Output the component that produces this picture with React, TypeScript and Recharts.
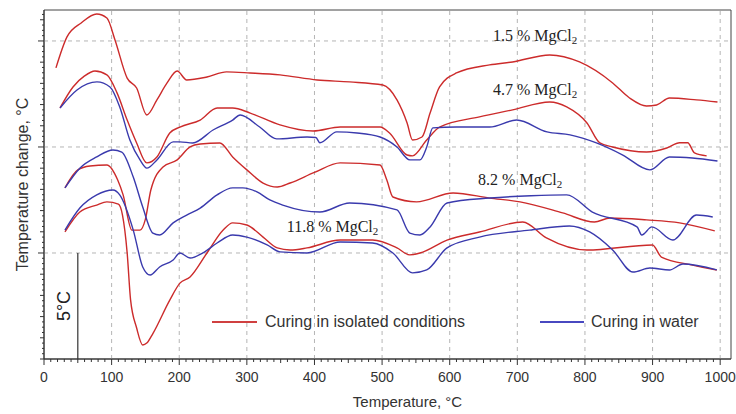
import React from 'react';
import {
    LineChart, Line, XAxis, YAxis, ReferenceLine, ReferenceArea, ReferenceDot, Legend,
} from 'recharts';

// [temperature °C, temperature change °C]
const RED_15 = [
    [17.7, 13.73], [34, 15.19], [55, 15.85], [78, 16.27], [93, 16.08], [105, 15.05], [123, 13.25], [137, 12.78],
    [152, 11.51], [167, 12.22], [182, 13.02], [197, 13.58], [211, 13.16], [241, 13.3], [270, 13.54], [305, 13.49],
    [349, 13.4], [404, 13.16], [452, 13.07], [501, 12.92], [522, 12.22], [537, 11.13], [545, 10.33], [559, 10.47],
    [571, 11.6], [585, 12.83], [610, 13.49], [659, 13.87], [693, 14.01], [748, 14.34], [792, 14.01], [841, 13.02],
    [866, 12.31], [891, 11.93], [906, 11.98], [925, 12.31], [965, 12.22], [996, 12.12],
];
const RED_47 = [
    [23.7, 11.84], [42.9, 12.83], [60, 13.35], [75.4, 13.58], [93, 13.4], [108, 12.55], [123, 11.27], [137, 10.19],
    [152, 9.25], [167, 9.53], [186, 10.66], [201, 10.94], [231, 11.27], [256, 11.84], [279, 11.84], [305, 11.6],
    [349, 11.04], [398, 10.75], [438, 10.94], [497, 10.94], [511, 10.66], [537, 9.62], [545, 9.58], [566, 10.33],
    [585, 10.94], [644, 11.42], [693, 11.75], [748, 12.12], [773, 11.89], [803, 11.13], [822, 10.19], [841, 10.0],
    [891, 9.76], [921, 9.95], [940, 10.2], [952, 10.2], [962, 9.72], [980, 9.58],
];
const BLUE_47 = [
    [23.7, 11.84], [48.8, 12.69], [78.3, 13.07], [97.6, 12.83], [112, 11.89], [127, 10.33], [142, 9.39], [152, 9.0],
    [167, 9.39], [191, 10.24], [201, 10.24], [220, 10.19], [250, 10.8], [279, 11.27], [290, 11.51], [319, 10.94],
    [344, 10.38], [389, 10.47], [402, 10.45], [408, 10.2], [433, 10.71], [463, 10.66], [497, 10.47], [522, 10.0],
    [541, 9.39], [556, 9.39], [566, 10.0], [575, 10.9], [610, 10.94], [659, 10.94], [699, 11.27], [744, 10.71],
    [778, 10.57], [817, 10.19], [856, 9.62], [896, 8.92], [925, 9.53], [959, 9.48], [996, 9.34],
];
const RED_82 = [
    [31, 8.07], [50, 8.92], [68, 9.1], [93, 9.15], [109, 8.44], [117, 7.74], [130, 6.08], [142, 6.08], [150, 6.6],
    [158, 7.97], [176, 9.06], [197, 9.39], [216, 10.0], [231, 10.14], [260, 10.19], [279, 9.53], [300, 8.92],
    [324, 8.3], [345, 8.11], [364, 8.3], [400, 8.8], [438, 9.25], [497, 9.15], [507, 8.44], [516, 7.64], [551, 7.41],
    [605, 7.83], [659, 7.59], [704, 7.41], [767, 6.89], [814, 6.46], [837, 6.65], [891, 6.56], [940, 6.42], [992, 6.04],
];
const BLUE_82 = [
    [31, 8.07], [53, 9.0], [78, 9.53], [102, 9.86], [115, 9.76], [132, 8.58], [146, 7.17], [161, 5.94], [171, 5.85],
    [191, 6.42], [211, 6.79], [231, 7.12], [256, 7.74], [279, 8.07], [294, 8.07], [315, 7.88], [334, 7.5],
    [353, 7.26], [408, 6.93], [452, 7.36], [522, 7.03], [541, 5.94], [556, 5.85], [571, 6.23], [596, 7.36],
    [659, 7.59], [720, 7.7], [773, 7.74], [811, 6.93], [877, 6.23], [884, 5.85], [899, 6.23], [930, 5.61],
    [965, 6.79], [989, 6.7],
];
const RED_118 = [
    [31, 5.99], [53, 6.93], [78, 7.26], [93, 7.41], [110, 7.3], [116, 6.8], [123, 5.0], [128, 2.8], [137, 1.46],
    [146, 0.66], [152, 0.75], [161, 1.2], [186, 2.78], [201, 3.58], [216, 3.87], [241, 5.0], [265, 6.08],
    [279, 6.42], [300, 6.32], [324, 5.75], [345, 5.24], [364, 5.14], [389, 5.24], [438, 5.61], [486, 5.61],
    [522, 5.24], [541, 4.91], [556, 5.0], [596, 5.61], [644, 5.99], [708, 6.46], [743, 5.71], [803, 5.14],
    [900, 5.38], [913, 4.81], [959, 4.43], [995, 4.2],
];
const BLUE_118 = [
    [31, 6.08], [53, 7.12], [78, 7.74], [102, 7.97], [112, 7.74], [132, 6.08], [146, 4.34], [157, 3.96], [171, 4.34],
    [191, 4.67], [201, 5.0], [216, 4.76], [235, 5.0], [256, 5.47], [279, 5.85], [300, 5.75], [330, 5.38],
    [349, 5.05], [389, 5.0], [438, 5.52], [486, 5.47], [516, 5.0], [545, 4.06], [566, 4.2], [596, 5.24],
    [644, 5.75], [718, 6.08], [777, 6.27], [807, 5.99], [841, 5.14], [871, 4.1], [896, 4.29], [925, 4.2],
    [945, 4.48], [995, 4.2],
];

const X_LABELS = [0, 100, 200, 300, 400, 500, 600, 700, 800, 900, 1000];
const GRID_Y = [5, 10, 15];
const X_MAX = 1016;
const Y_MAX = 16.46;

// annotation: text, x, y (data coords of text start / baseline)
const NOTES: [string, number, number][] = [
    ['1.5 % MgCl', 664, 15.0],
    ['4.7 % MgCl', 664, 12.45],
    ['8.2 % MgCl', 642, 8.21],
    ['11.8 % MgCl', 359, 5.99],
];

const RED = '#cc2b2b';
const BLUE = '#3a3aad';
const AXIS = '#333';
const SANS = '"Liberation Sans", Arial, sans-serif';
const SERIF = '"Liberation Serif", "Times New Roman", serif';

const toPts = (arr: number[][]) => arr.map(([x, y]) => ({ x, y }));

const X_TICKS = Array.from({ length: 101 }, (_, i) => i * 10);
const Y_TICKS = Array.from({ length: 66 }, (_, i) => i * 0.25);

const XTick = (props: any) => {
    const { x, y, payload } = props;
    const v = payload.value;
    const major = v % 100 === 0;
    const len = major ? 6 : v % 50 === 0 ? 4 : 3;
    return (
        <g>
            <line x1={x} x2={x} y1={y} y2={y + len} stroke={AXIS} strokeWidth={1} />
            {major && (
                <text x={x} y={y + 23} textAnchor="middle" fontSize={14} fill={AXIS} fontFamily={SANS}>
                    {v}
                </text>
            )}
        </g>
    );
};

const YTick = (props: any) => {
    const { x, y, payload } = props;
    const v = payload.value;
    const major = Math.abs(v % 5) < 1e-6 && v > 0;
    const mid = Math.abs(v % 1) < 1e-6;
    const len = major ? 6 : mid ? 4 : 2;
    return <line x1={x - len} x2={x} y1={y} y2={y} stroke={AXIS} strokeWidth={1} />;
};

const LegendBox = () => (
    <div style={{ position: 'relative', width: 520, height: 20, fontFamily: SANS, fontSize: 16, color: '#333' }}>
        <span style={{ position: 'absolute', left: 0, top: 9, width: 45, height: 2, background: '#d04040' }} />
        <span style={{ position: 'absolute', left: 53, top: 0, lineHeight: '20px', whiteSpace: 'nowrap' }}>
            Curing in isolated conditions
        </span>
        <span style={{ position: 'absolute', left: 328, top: 9, width: 44, height: 2, background: '#4848c0' }} />
        <span style={{ position: 'absolute', left: 379, top: 0, lineHeight: '20px', whiteSpace: 'nowrap' }}>
            Curing in water
        </span>
    </div>
);

const series = [
    { id: 'r15', data: RED_15, color: RED },
    { id: 'r47', data: RED_47, color: RED },
    { id: 'b47', data: BLUE_47, color: BLUE },
    { id: 'r82', data: RED_82, color: RED },
    { id: 'b82', data: BLUE_82, color: BLUE },
    { id: 'r118', data: RED_118, color: RED },
    { id: 'b118', data: BLUE_118, color: BLUE },
];

export default function App() {
    return (
        <div style={{ position: 'absolute', left: 0, top: 0, width: 736, height: 414, background: '#fff' }}>
            <LineChart width={736} height={414} margin={{ top: 10, right: 5, bottom: 0, left: 0 }}>
                <XAxis
                    type="number"
                    dataKey="x"
                    domain={[0, X_MAX]}
                    ticks={X_TICKS}
                    interval={0}
                    allowDataOverflow
                    height={55}
                    tickSize={0}
                    tickMargin={0}
                    tickLine={false}
                    tick={<XTick />}
                    axisLine={{ stroke: AXIS }}
                    label={{
                        content: (p: any) => {
                            const vb = p.viewBox;
                            return (
                                <text x={vb.x + vb.width / 2 + 20} y={vb.y + 48} textAnchor="middle"
                                    fontSize={15} fill={AXIS} fontFamily={SANS}>
                                    Temperature, °C
                                </text>
                            );
                        },
                    }}
                />
                <YAxis
                    type="number"
                    dataKey="y"
                    domain={[0, Y_MAX]}
                    ticks={Y_TICKS}
                    interval={0}
                    allowDataOverflow
                    width={44}
                    tickSize={0}
                    tickMargin={0}
                    tickLine={false}
                    tick={<YTick />}
                    axisLine={{ stroke: AXIS }}
                    label={{
                        content: (p: any) => {
                            const vb = p.viewBox;
                            const cy = vb.y + vb.height / 2;
                            return (
                                <text transform={`translate(${vb.x + 28},${cy}) rotate(-90)`} textAnchor="middle"
                                    fontSize={16} fill={AXIS} fontFamily={SANS}>
                                    Temperature change, °C
                                </text>
                            );
                        },
                    }}
                />
                {X_LABELS.filter((v) => v > 0).map((v) => (
                    <ReferenceLine key={'gx' + v} x={v} stroke="#b5b5b5" strokeDasharray="4 4" />
                ))}
                {GRID_Y.map((v) => (
                    <ReferenceLine key={'gy' + v} y={v} stroke="#b5b5b5" strokeDasharray="4 4" />
                ))}
                <ReferenceArea x1={0} x2={X_MAX} y1={0} y2={Y_MAX} fill="none" stroke="#444" strokeWidth={1} />
                <ReferenceLine
                    segment={[{ x: 50, y: 0 }, { x: 50, y: 5 }]}
                    stroke={AXIS}
                    strokeWidth={1.2}
                    label={{
                        content: (p: any) => {
                            const vb = p.viewBox;
                            const cy = vb.y + vb.height / 2;
                            return (
                                <text transform={`translate(${vb.x - 8},${cy}) rotate(-90)`} textAnchor="middle"
                                    fontSize={18} fill="#222" fontFamily={SANS}>
                                    5°C
                                </text>
                            );
                        },
                    }}
                />
                {series.map((s) => (
                    <Line
                        key={s.id}
                        data={toPts(s.data)}
                        dataKey="y"
                        type="monotone"
                        stroke={s.color}
                        strokeWidth={1.4}
                        dot={false}
                        activeDot={false}
                        isAnimationActive={false}
                    />
                ))}
                {NOTES.map(([t, x, y]) => (
                    <ReferenceDot
                        key={t}
                        x={x}
                        y={y}
                        r={0}
                        shape={(p: any) => (
                            <text x={p.cx} y={p.cy} fontSize={16} fill="#222" fontFamily={SERIF}>
                                {t}
                                <tspan fontSize={11} dy={3}>2</tspan>
                            </text>
                        )}
                    />
                ))}
                <Legend
                    layout="horizontal"
                    verticalAlign="middle"
                    align="center"
                    wrapperStyle={{ position: 'absolute', left: 212, top: 312, width: 520, height: 20 }}
                    content={() => <LegendBox />}
                />
            </LineChart>
        </div>
    );
}
